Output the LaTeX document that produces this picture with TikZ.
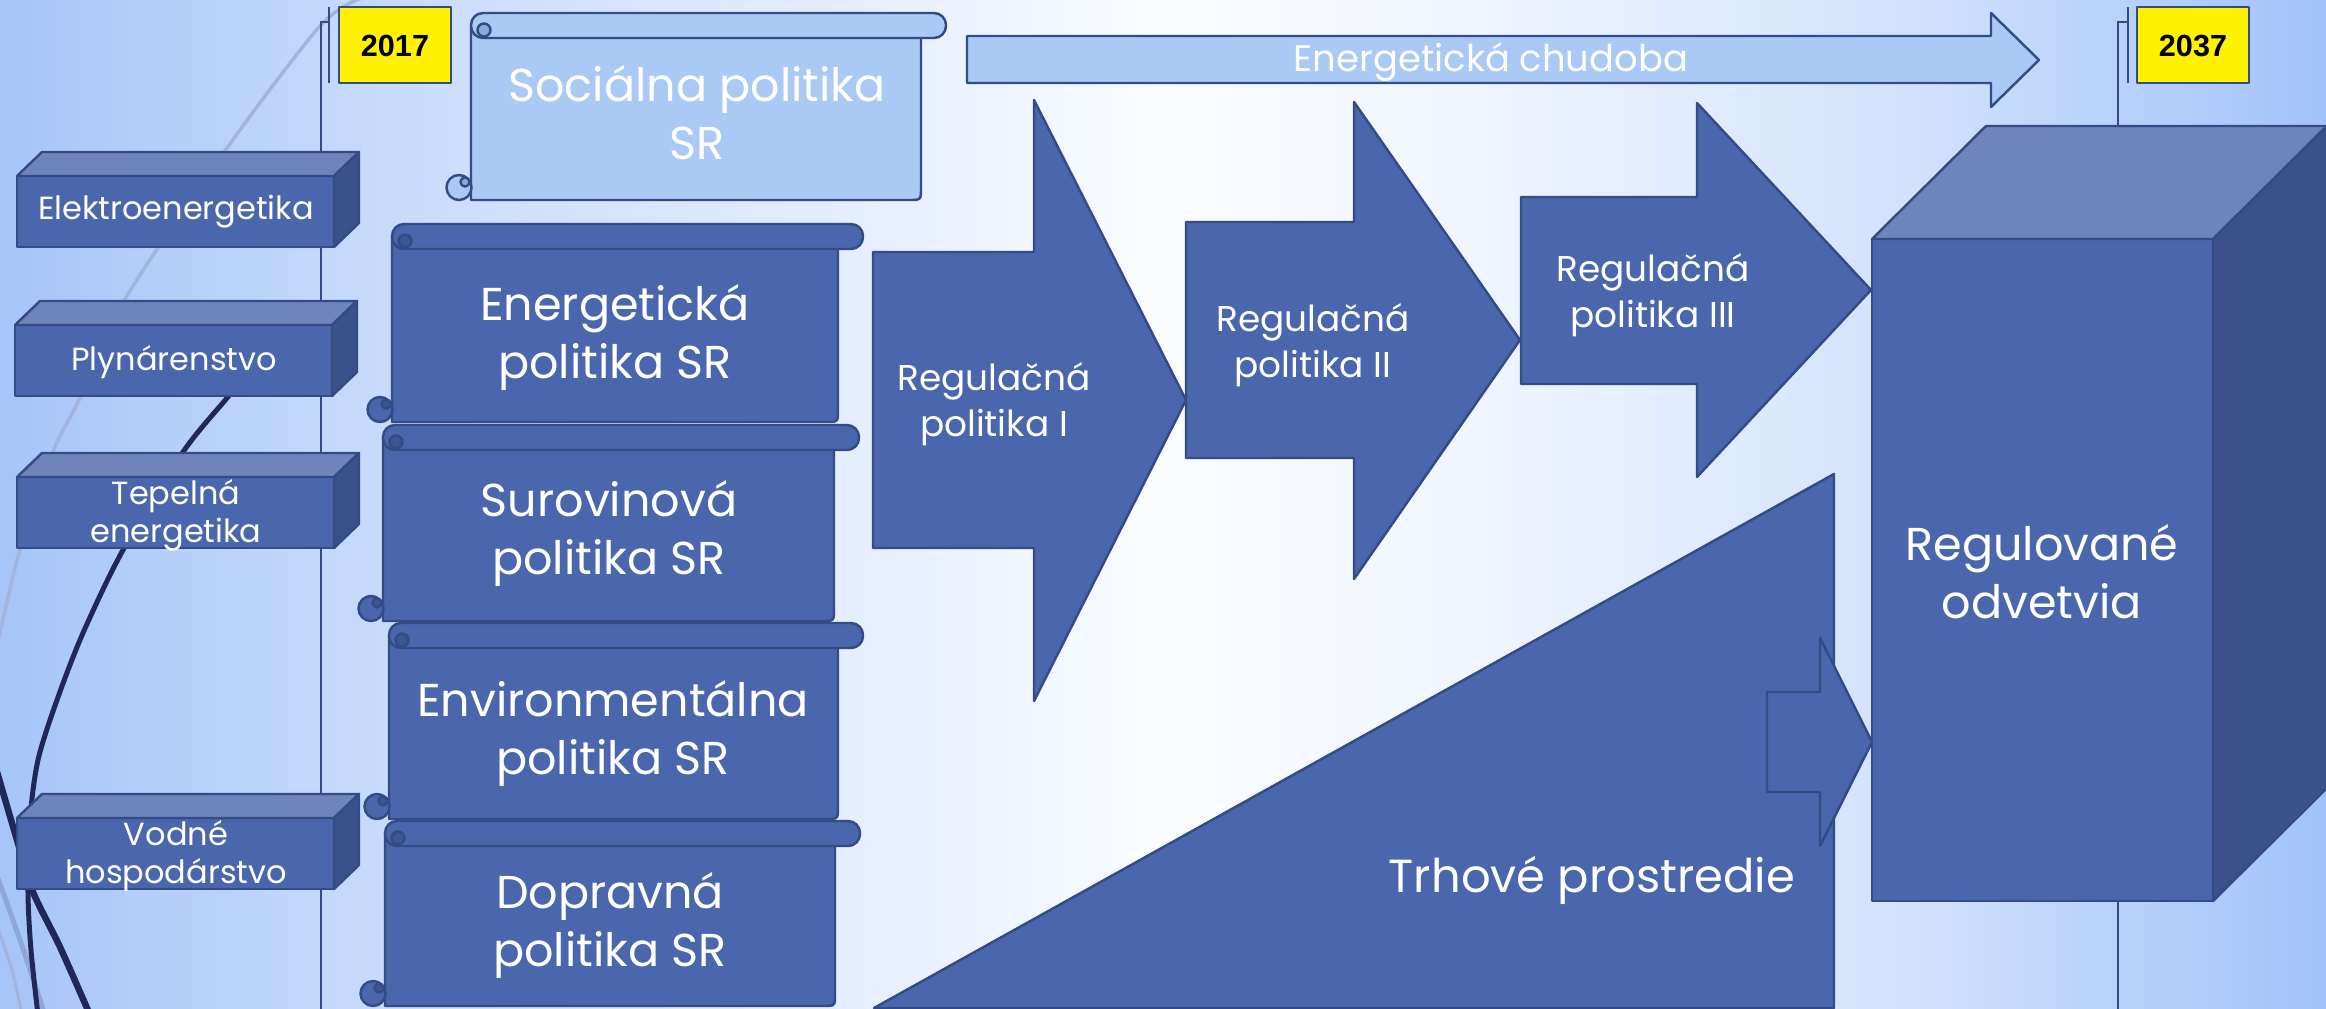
\documentclass[tikz,border=0pt]{standalone}
\usepackage{fontspec}
\setmainfont{Poppins}
\newfontfamily\yearfont{Liberation Sans}
\definecolor{bgA}{HTML}{A6C5F8}
\definecolor{bgB}{HTML}{C4D9FB}
\definecolor{bgC}{HTML}{E8F0FE}
\definecolor{bgM}{HTML}{FAFCFF}
\definecolor{bgD}{HTML}{F0F5FE}
\definecolor{bgE}{HTML}{D0E1FC}
\definecolor{bgF}{HTML}{BDD5FB}
\definecolor{bgG}{HTML}{A2C3F9}
\definecolor{midblue}{HTML}{4A66AC}
\definecolor{lineblue}{HTML}{344C86}
\definecolor{topblue}{HTML}{6E84BA}
\definecolor{sideblue}{HTML}{3C5189}
\definecolor{lightblue}{HTML}{AAC9F5}
\definecolor{innerdark}{HTML}{3D5593}
\definecolor{innerlight}{HTML}{8EA9DC}
\definecolor{decodark}{HTML}{20285A}
\definecolor{decolight}{HTML}{A3B5DC}
\definecolor{decomid}{HTML}{8EA7D8}
\pgfdeclarehorizontalshading{bgshade}{100bp}{color(0bp)=(bgA); color(25bp)=(bgA); color(32.3bp)=(bgB); color(44.3bp)=(bgC); color(50bp)=(bgM); color(56.8bp)=(bgD); color(66.5bp)=(bgE); color(69.6bp)=(bgF); color(75bp)=(bgG); color(100bp)=(bgG)}
\tikzset{
  shapeline/.style={draw=lineblue, line width=0.7pt, line join=round},
  darkshape/.style={shapeline, fill=midblue},
  lightshape/.style={shapeline, fill=lightblue},
  cubefront/.style={shapeline, fill=midblue},
  cubetop/.style={shapeline, fill=topblue},
  cubeside/.style={shapeline, fill=sideblue},
  timeline/.style={draw=lineblue, line width=0.7pt},
  yearbox/.style={shapeline, fill=yellow},
  bigtext/.style={text=white, align=center, inner sep=0pt, font=\fontsize{13.1}{16.5}\selectfont},
  regtext/.style={text=white, align=center, inner sep=0pt, font=\fontsize{10.2}{13.1}\selectfont},
  smalltext/.style={text=white, align=center, inner sep=0pt, font=\fontsize{9.1}{10.8}\selectfont},
  chudtext/.style={text=white, inner sep=0pt, font=\fontsize{10.5}{12}\selectfont},
  yeartext/.style={text=black, inner sep=0pt, font=\yearfont\bfseries\fontsize{8.7}{10}\selectfont},
}
% #1 L, #2 R, #3 T, #4 B, #5 fill, #6 inner fill
\newcommand{\drawscroll}[6]{%
  \filldraw[shapeline, fill=#5] (#1,{#3+12}) -- (#1,#4) -- ({#2-37},#4) .. controls ({#2-25},#4) .. ({#2-25},{#4-12}) -- ({#2-25},{#3+12}) -- cycle;
  \filldraw[shapeline, fill=#5] ({#1-12},{#4-12.5}) circle[radius=0.125cm];
  \filldraw[shapeline, fill=#6] ({#1-6},{#4-18}) circle[radius=0.045cm];
  \filldraw[shapeline, fill=#5, rounded corners=0.12cm] (#1,#3) rectangle (#2,{#3+25});
  \filldraw[shapeline, fill=#6] ({#1+13},{#3+17}) circle[radius=0.065cm];
}
% #1 x0, #2 y0, #3 x1, #4 y1, #5 dx, #6 dy
\newcommand{\drawcuboid}[6]{%
  \filldraw[cubefront] (#1,#2) rectangle (#3,#4);
  \filldraw[cubetop] (#1,#2) -- ({#1+#5},{#2-#6}) -- ({#3+#5},{#2-#6}) -- (#3,#2) -- cycle;
  \filldraw[cubeside] (#3,#2) -- ({#3+#5},{#2-#6}) -- ({#3+#5},{#4-#6}) -- (#3,#4) -- cycle;
}
\begin{document}
\begin{tikzpicture}[x=0.01cm, y=-0.01cm]
\useasboundingbox (0,0) rectangle (2326,1009);
\shade[shading=bgshade] (0,0) rectangle (2326,1009);

% decorative curves
\draw[decolight, line width=0.035cm] plot[smooth] coordinates {(362,-2) (320,26) (227,148) (127,296) (80,398) (53,452) (20,550) (4,615) (-4,650)};
\draw[decomid, line width=0.05cm] plot[smooth] coordinates {(-5,870) (20,940) (45,1015)};
\draw[decolight, line width=0.03cm] plot[smooth] coordinates {(-5,920) (12,970) (22,1015)};
\draw[decodark, line width=0.05cm] plot[smooth] coordinates {(250,370) (227,398) (183,452) (123,550) (83,633) (57,700) (38,760) (30,820) (28,892) (31,950) (38,1015)};
\draw[decodark, line width=0.065cm] plot[smooth] coordinates {(-5,765) (17,840) (33,892) (60,947) (90,1015)};

% timelines and flags
\coordinate (t1top) at (321,22);
\coordinate (t1bot) at (321,1009);
\coordinate (t2top) at (2118,22);
\coordinate (t2bot) at (2118,1009);
\draw[timeline] (t1bot) -- (t1top) -- (329,22);
\draw[timeline] (329,7) -- (329,83);
\draw[timeline] (t2bot) -- (t2top) -- (2128,22);
\draw[timeline] (2128,7) -- (2128,83);
\filldraw[yearbox] (339,7) rectangle (451,83);
\filldraw[yearbox] (2137,7) rectangle (2249,83);
\node[yeartext] (y2017) at (395,46) {2017};
\node[yeartext] (y2037) at (2193,46) {2037};

% left cuboids
\drawcuboid{17}{176}{334}{247}{25}{24}
\drawcuboid{15}{325}{332}{396}{25}{24}
\drawcuboid{17}{477}{334}{548}{25}{24}
\drawcuboid{17}{818}{334}{889}{25}{24}
\node[smalltext] (elektro) at (176,212) {Elektroenergetika};
\node[smalltext] (plyn) at (174,362) {Plynárenstvo};
\node[smalltext] (tepelna) at (176,515) {Tepelná\\energetika};
\node[smalltext] (vodne) at (176,856) {Vodné\\hospodárstvo};

% scrolls
\drawscroll{471}{946}{13}{200}{lightblue}{innerlight}
\drawscroll{392}{863}{224}{422}{midblue}{innerdark}
\drawscroll{383}{859}{425}{621}{midblue}{innerdark}
\drawscroll{389}{863}{623}{819}{midblue}{innerdark}
\drawscroll{385}{860}{821}{1006}{midblue}{innerdark}
\node[bigtext] (socialna) at (697,113) {Sociálna politika\\SR};
\node[bigtext] (energeticka) at (615,337) {Energetická\\politika SR};
\node[bigtext] (surovinova) at (609,533) {Surovinová\\politika SR};
\node[bigtext] (environ) at (613,733) {Environmentálna\\politika SR};
\node[bigtext] (dopravna) at (610,925) {Dopravná\\politika SR};

% energeticka chudoba arrow
\filldraw[lightshape] (967,36) -- (1991,36) -- (1991,13) -- (2039,60) -- (1991,107) -- (1991,83) -- (967,83) -- cycle;
\node[chudtext] (chudoba) at (1491,62) {Energetická chudoba};

% regulation arrows
\filldraw[darkshape] (873,252) -- (1034,252) -- (1034,100) -- (1186,400) -- (1034,701) -- (1034,548) -- (873,548) -- cycle;
\filldraw[darkshape] (1186,222) -- (1354,222) -- (1354,102) -- (1520,340) -- (1354,579) -- (1354,458) -- (1186,458) -- cycle;
\filldraw[darkshape] (1521,197) -- (1697,197) -- (1697,103) -- (1871,290) -- (1697,477) -- (1697,384) -- (1521,384) -- cycle;
\node[regtext] (reg1) at (994,404) {Regulačná\\politika I};
\node[regtext] (reg2) at (1313,345) {Regulačná\\politika II};
\node[regtext] (reg3) at (1653,295) {Regulačná\\politika III};

% market triangle and small arrow
\filldraw[darkshape] (874,1008) -- (1834,474) -- (1834,1008) -- cycle;
\filldraw[darkshape] (1767,692) -- (1820,692) -- (1820,638) -- (1872,742) -- (1820,846) -- (1820,792) -- (1767,792) -- cycle;
\node[bigtext, font=\fontsize{13.2}{16.5}\selectfont] (trh) at (1592,880) {Trhové prostredie};

% big cube
\drawcuboid{1872}{239}{2213}{901}{114}{113}
\node[bigtext] (regulovane) at (2042,572) {Regulované\\odvetvia};
\end{tikzpicture}
\end{document}
